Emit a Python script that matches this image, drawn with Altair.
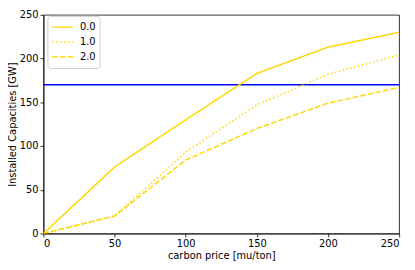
import altair as alt
import pandas as pd

prices = [0, 50, 100, 150, 200, 250]
cap_00 = [0, 76, 130, 183, 213, 230]
cap_10 = [0, 20, 93, 147, 182, 204]
cap_20 = [0, 20, 84, 120, 149, 167]
series_names = ["0.0", "1.0", "2.0"]
limit_value = [170]

rows = []
for name, vals in zip(series_names, [cap_00, cap_10, cap_20]):
    for p, v in zip(prices, vals):
        rows.append({"price": p, "cap": v, "series": name})
df = pd.DataFrame(rows)
limit_df = pd.DataFrame({"y": limit_value})

xscale = alt.Scale(domain=[0, 250], nice=False)
yscale = alt.Scale(domain=[0, 250], nice=False)

lines = alt.Chart(df).mark_line(color="gold", strokeWidth=1.5, clip=True).encode(
    x=alt.X("price:Q", scale=xscale, title="carbon price [mu/ton]",
            axis=alt.Axis(values=[0, 50, 100, 150, 200, 250], titlePadding=2)),
    y=alt.Y("cap:Q", scale=yscale, title="Installed Capacities [GW]",
            axis=alt.Axis(values=[0, 50, 100, 150, 200, 250], titlePadding=2)),
    strokeDash=alt.StrokeDash(
        "series:N",
        scale=alt.Scale(domain=series_names,
                        range=[[1, 0], [1.5, 2.5], [5.5, 2.4]]),
        legend=alt.Legend(
            title=None, orient="none", legendX=4, legendY=1,
            symbolType="stroke", symbolSize=441, symbolStrokeWidth=1.5,
            symbolStrokeColor="gold", labelFontSize=10, labelFont="DejaVu Sans",
            labelColor="black", fillColor="white", strokeColor="#cccccc",
            cornerRadius=3, padding=4, rowPadding=0, labelOffset=6,
            clipHeight=15,
        ),
    ),
)

rule = alt.Chart(limit_df).mark_rule(color="blue", strokeWidth=1.5).encode(
    y=alt.Y("y:Q", scale=yscale)
)

chart = alt.layer(rule, lines).properties(
    width=361, height=222,
    padding={"left": 36, "top": 5, "right": 8, "bottom": 27},
    autosize=alt.AutoSizeParams(type="none"),
).configure_view(
    stroke="black", strokeWidth=0.8
).configure_axis(
    grid=False, domainColor="black", domainWidth=0.8, tickColor="black",
    tickSize=3.5, tickWidth=0.8, labelFont="DejaVu Sans", labelFontSize=10,
    labelColor="black", titleFont="DejaVu Sans", titleFontSize=10,
    titleFontWeight="normal", titleColor="black", labelPadding=2,
)

chart.save("out.html", embed_options={"renderer": "svg", "actions": False})
